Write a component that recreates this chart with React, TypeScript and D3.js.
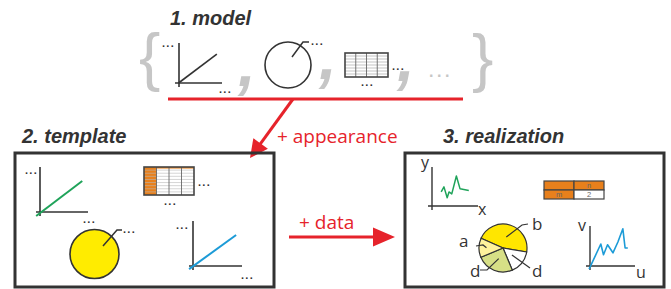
import React from "react";
import * as d3 from "d3";

// ---- values ----
const titles = ["1. model", "2. template", "3. realization"];
const arrowLabels = ["+ appearance", "+ data"];

// model row: generic line chart, circle, table, "..."
const modelLine: [number, number][] = [[-0.1, 0], [8.8, 7.2]];
const tplGreenLine: [number, number][] = [[-0.8, -0.9], [8.8, 6.9]];
const tplBlueLine: [number, number][] = [[-0.8, -0.7], [8.8, 6.9]];

// realization: actual data
const realGreen: [number, number][] = [
  [2.0, 3.6], [2.6, 4.9], [3.3, 2.1], [3.7, 3.6], [4.3, 3.1],
  [5.3, 7.7], [6.1, 4.4], [8.0, 4.0],
];
const realBlue: [number, number][] = [
  [-0.2, -0.8], [2.4, 5.5], [3.0, 2.8], [3.9, 5.3], [5.1, 3.3],
  [6.2, 6.0], [7.3, 9.3], [7.8, 4.5], [8.4, 4.5],
];

const pieLabels = ["b", "d", "d", "a"];
const pieValues = [46, 16, 25, 13];
const pieColors = ["#ffe600", "#ffffff", "#d7df86", "#fff29c"];

const tableHead = ["", "n"];
const tableBody = ["m", "2"];

const RED = "#e6232b";
const DARK = "#333333";
const ORANGE = "#e8801c";
const GRAY = "#c6c6c6";

const dotsStyle = { fontFamily: "Liberation Sans", fontWeight: 700, fontSize: 11, letterSpacing: 1.3, fill: DARK } as const;

type ChartProps = {
  ox: number; oy: number; top: number; right: number; data: [number, number][];
  color: string; width?: number; axisW?: number;
};

// small axes + line
const MiniChart = ({ ox, oy, top, right, data, color, width = 2, axisW = 1.6 }: ChartProps) => {
  const x = d3.scaleLinear().domain([0, 10]).range([ox, right]);
  const y = d3.scaleLinear().domain([0, 10]).range([oy, top]);
  const line = d3.line<[number, number]>().x(d => x(d[0])).y(d => y(d[1]));
  return (
    <g>
      <line x1={ox} x2={ox} y1={top} y2={oy + 4} stroke={DARK} strokeWidth={axisW} />
      <line x1={ox - 4} x2={right} y1={oy} y2={oy} stroke={DARK} strokeWidth={axisW} />
      <path d={line(data) || ""} fill="none" stroke={color} strokeWidth={width} strokeLinejoin="round" />
    </g>
  );
};

type TableProps = { x: number; y: number; w: number; h: number; cols: number; rows: number; orange?: boolean };

const GridTable = ({ x, y, w, h, cols, rows, orange }: TableProps) => {
  const cx = d3.scaleLinear().domain([0, cols]).range([x, x + w]);
  const ry = d3.scaleLinear().domain([0, rows]).range([y, y + h]);
  return (
    <g>
      <rect x={x} y={y} width={w} height={h} fill="#fff" />
      {orange && <rect x={x} y={y} width={cx(1) - x} height={h} fill={ORANGE} />}
      {orange && <rect x={x} y={y} width={w} height={ry(0.5) - y} fill={ORANGE} />}
      {d3.range(1, rows).map(i => (
        <line key={"r" + i} x1={x} x2={x + w} y1={ry(i)} y2={ry(i)}
          stroke={orange ? "#b9b9b9" : "#9a9a9a"} strokeWidth={0.6} />
      ))}
      {d3.range(1, cols).map(i => (
        <line key={"c" + i} x1={cx(i)} x2={cx(i)} y1={y} y2={y + h} stroke="#666" strokeWidth={0.9} />
      ))}
      <rect x={x} y={y} width={w} height={h} fill="none" stroke="#444" strokeWidth={1.6} />
    </g>
  );
};

const Dots = ({ x, y }: { x: number; y: number }) => (
  <text x={x} y={y} style={dotsStyle}>...</text>
);

// arrow shaft + triangular head
const Arrow = ({ x1, y1, x2, y2, len, half }: { x1: number; y1: number; x2: number; y2: number; len: number; half: number }) => {
  const dx = x2 - x1, dy = y2 - y1;
  const L = Math.hypot(dx, dy);
  const ux = dx / L, uy = dy / L;
  const bx = x2 - ux * len, by = y2 - uy * len;
  const pts = [[x2, y2], [bx - uy * half, by + ux * half], [bx + uy * half, by - ux * half]];
  return (
    <g>
      <line x1={x1} y1={y1} x2={bx + ux * 2} y2={by + uy * 2} stroke={RED} strokeWidth={3} />
      <polygon points={pts.map(p => p.join(",")).join(" ")} fill={RED} />
    </g>
  );
};

const Pie = () => {
  const cx = 503, cy = 248, r = 24;
  const arcs = d3.pie<number>().sort(null).startAngle(-66 * Math.PI / 180).endAngle((360 - 66) * Math.PI / 180)(pieValues);
  const arc = d3.arc<d3.PieArcDatum<number>>().innerRadius(0).outerRadius(r);
  const inner = d3.arc<d3.PieArcDatum<number>>().innerRadius(0).outerRadius(r * 0.95);
  // leader ends + label anchor, relative to the pie centre
  const leaders = [
    { mid: [19, -23], end: [25, -24], tx: 29, ty: -18 },
    { mid: [27, 20], end: [27, 20], tx: 29, ty: 29 },
    { mid: [-16, 22], end: [-23, 22], tx: -33, ty: 29 },
    { mid: [-20, -3], end: [-27, -2], tx: -44, ty: -1 },
  ];
  const lbl = { fontFamily: "Open Sans", fontSize: 17, fill: DARK } as const;
  return (
    <g transform={`translate(${cx},${cy})`}>
      {arcs.map((a, i) => (
        <path key={i} d={arc(a) || ""} fill={pieColors[i]} stroke={DARK} strokeWidth={1.2} />
      ))}
      {arcs.map((a, i) => {
        const c = inner.centroid(a);
        const l = leaders[i];
        const start = i === 3 ? [c[0] * 1.45, c[1] * 1.45] : c;
        return (
          <g key={"l" + i}>
            <polyline points={`${start[0]},${start[1]} ${l.mid[0]},${l.mid[1]} ${l.end[0]},${l.end[1]}`}
              fill="none" stroke={DARK} strokeWidth={1.2} />
            <text x={l.tx} y={l.ty} style={lbl}>{pieLabels[i]}</text>
          </g>
        );
      })}
    </g>
  );
};

const App = () => {
  const titleStyle = { fontFamily: "Liberation Sans", fontWeight: 700, fontStyle: "italic", fontSize: 20, fill: DARK } as const;
  const redStyle = { fontFamily: "Open Sans", fontSize: 19, fill: RED } as const;
  const grayBig = { fontFamily: "Liberation Sans", fill: GRAY } as const;
  const axisLbl = { fontFamily: "Open Sans", fontSize: 16, fill: DARK } as const;
  const commaStyle = { ...grayBig, fontSize: 64, fontStyle: "italic", fontWeight: 700 } as const;

  // realization table
  const tx = d3.scaleBand().domain(["0", "1"]).range([544, 604]);
  const ty = d3.scaleBand().domain(["0", "1"]).range([181, 199]);
  const cells = [...tableHead.map((t, i) => ({ t, c: i, r: 0 })), ...tableBody.map((t, i) => ({ t, c: i, r: 1 }))];

  return (
    <svg width={671} height={289} style={{ position: "absolute", left: 0, top: 0, background: "#fff" }}>
      {/* 1. model */}
      <text x={170} y={25} style={titleStyle}>{titles[0]}</text>
      <text x={139} y={79} style={{ ...grayBig, fontSize: 64 }}>{"{"}</text>
      <text x={472} y={80} style={{ ...grayBig, fontSize: 64 }}>{"}"}</text>
      <MiniChart ox={179} oy={83} top={43} right={222} data={modelLine} color={DARK} width={1.6} axisW={1.6} />
      <Dots x={162} y={47} />
      <Dots x={219} y={93} />
      <text x={238} y={86} style={commaStyle}>,</text>
      <circle cx={288} cy={65} r={23} fill="none" stroke={DARK} strokeWidth={1.6} />
      <polyline points="292,57 303,42 309,42" fill="none" stroke={DARK} strokeWidth={1.5} />
      <Dots x={311} y={45} />
      <text x={319} y={79} style={commaStyle}>,</text>
      <GridTable x={345} y={53} w={43} h={24} cols={4} rows={8} />
      <Dots x={392} y={70} />
      <Dots x={361} y={86} />
      <text x={397} y={81} style={commaStyle}>,</text>
      <text x={429} y={77} style={{ ...grayBig, fontSize: 16, fontWeight: 700, letterSpacing: 3.5 }}>...</text>
      <line x1={168} x2={463} y1={99} y2={99} stroke={RED} strokeWidth={3} />

      <Arrow x1={293} y1={99} x2={250} y2={158} len={18} half={9} />
      <text x={277} y={143} style={redStyle}>{arrowLabels[0]}</text>

      {/* 2. template */}
      <text x={22} y={143} style={titleStyle}>{titles[1]}</text>
      <rect x={15} y={153} width={259} height={134} fill="none" stroke={DARK} strokeWidth={3} />
      <MiniChart ox={40} oy={212} top={167} right={88} data={tplGreenLine} color="#1fa35a" />
      <Dots x={25} y={174} />
      <Dots x={83} y={223} />
      <GridTable x={144} y={167} w={50} h={28} cols={4} rows={9} orange />
      <Dots x={198} y={186} />
      <Dots x={164} y={205} />
      <circle cx={94.5} cy={254} r={24.5} fill="#ffec00" stroke={DARK} strokeWidth={1.6} />
      <polyline points="103,246 117,230 122,230" fill="none" stroke={DARK} strokeWidth={1.5} />
      <Dots x={123} y={233} />
      <MiniChart ox={193} oy={266} top={221} right={242} data={tplBlueLine} color="#1c9bd7" />
      <Dots x={176} y={229} />
      <Dots x={241} y={279} />

      <Arrow x1={289} y1={237} x2={395} y2={237} len={22} half={9.5} />
      <text x={299} y={229} style={redStyle}>{arrowLabels[1]}</text>

      {/* 3. realization */}
      <text x={443} y={143} style={titleStyle}>{titles[2]}</text>
      <rect x={405} y={153} width={259} height={134} fill="none" stroke={DARK} strokeWidth={3} />
      <MiniChart ox={432} oy={206} top={167} right={478} data={realGreen} color="#1fa35a" width={1.5} axisW={1.4} />
      <text x={421} y={168} style={axisLbl}>y</text>
      <text x={478} y={215} style={axisLbl}>x</text>
      {cells.map((d, i) => (
        <g key={i}>
          <rect x={tx(String(d.c))} y={ty(String(d.r))} width={tx.bandwidth()} height={ty.bandwidth()}
            fill={d.r === 1 && d.c === 1 ? "#fff" : ORANGE} stroke="#444" strokeWidth={1.2} />
          <text x={(tx(String(d.c)) || 0) + tx.bandwidth() / 2} y={(ty(String(d.r)) || 0) + ty.bandwidth() - 1.6}
            textAnchor="middle" style={{ fontFamily: "Liberation Sans", fontSize: 7.5, fill: "#666" }}>{d.t}</text>
        </g>
      ))}
      <Pie />
      <MiniChart ox={590} oy={266} top={226} right={635} data={realBlue} color="#1c9bd7" width={1.6} axisW={1.4} />
      <text x={578} y={231} style={axisLbl}>v</text>
      <text x={636} y={278} style={axisLbl}>u</text>
    </svg>
  );
};

export default App;
